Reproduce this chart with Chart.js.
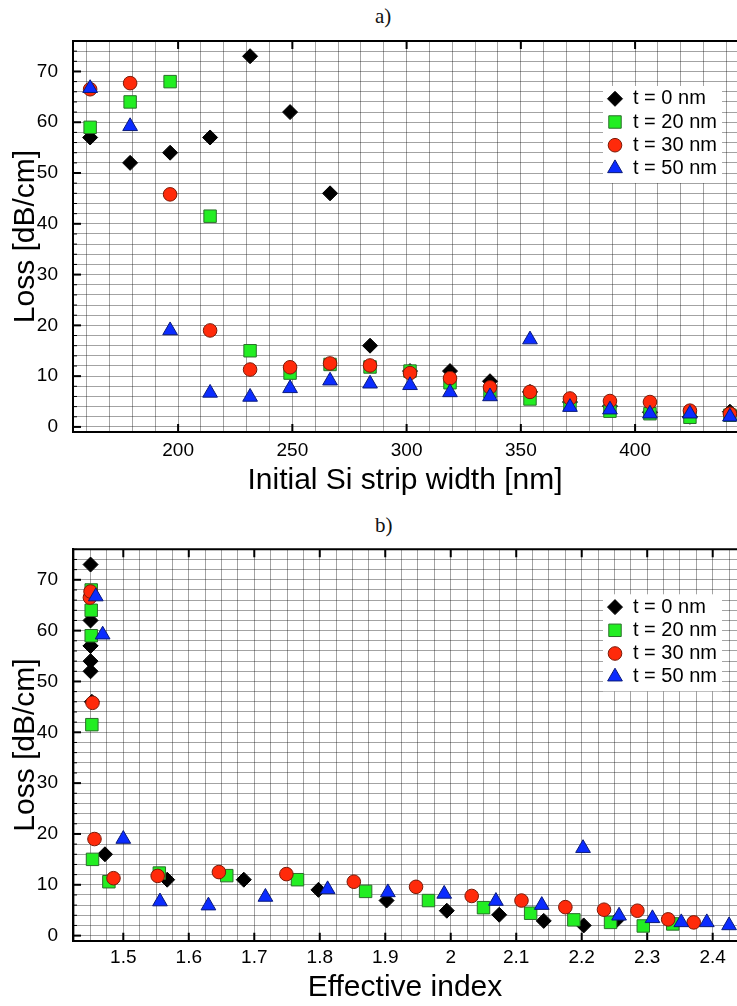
<!DOCTYPE html>
<html>
<head>
<meta charset="utf-8">
<script src="https://cdn.jsdelivr.net/npm/chart.js@4.4.1/dist/chart.umd.min.js"></script>
<style>
	body { margin: 0; background: #fff; width: 737px; height: 1006px; overflow: hidden; position: relative; }
	.panel { position: absolute; left: 0; width: 737px; }
	.tag { position: absolute; left: 375px; font-family: "Liberation Serif", "DejaVu Serif", serif; font-size: 21px; line-height: 1; color: #111; }
</style>
</head>
<body>
<div class="tag" style="top:6px">a)</div>
<div class="panel" style="top:0;height:500px"><canvas id="chartA"></canvas></div>
<div class="tag" style="top:515px">b)</div>
<div class="panel" style="top:500px;height:506px"><canvas id="chartB"></canvas></div>
<script>
// values
const seriesLabels = ["t = 0 nm", "t = 20 nm", "t = 30 nm", "t = 50 nm"];
const widthNm = [161.5, 179, 196.5, 214, 231.5, 249, 266.5, 284, 301.5, 319, 336.5, 354, 371.5, 389, 406.5, 424, 441.5];

const loss0 = [57, 52, 54, 57, 73, 62, 46, 16, 11, 11, 9, 6.9, 4.9, 4.1, 2.9, 2.0, 3.0];
const loss20 = [59, 64, 68, 41.5, 15, 10.6, 12.3, 11.8, 11.0, 8.7, 6.9, 5.5, 4.4, 3.1, 2.6, 1.9, 2.3];
const loss30 = [66.5, 67.7, 45.8, 19, 11.3, 11.75, 12.5, 12.1, 10.6, 9.6, 7.8, 6.9, 5.6, 5.1, 4.9, 3.2, 2.6];
const loss50 = [66.7, 59.2, 19, 6.7, 5.9, 7.6, 9.1, 8.5, 8.2, 6.8, 6.0, 17.2, 3.9, 3.4, 2.6, 2.6, 2.0];

const neff0 = [1.450, 1.450, 1.450, 1.450, 1.450, 1.450, 1.452, 1.472, 1.567, 1.684, 1.798, 1.902, 1.994, 2.074, 2.142, 2.203, 2.253];
const neff20 = [1.451, 1.451, 1.451, 1.452, 1.453, 1.478, 1.555, 1.658, 1.766, 1.870, 1.966, 2.050, 2.122, 2.188, 2.244, 2.294, 2.339];
const neff30 = [1.449, 1.450, 1.453, 1.456, 1.485, 1.5525, 1.646, 1.749, 1.852, 1.947, 2.032, 2.108, 2.175, 2.234, 2.285, 2.332, 2.371];
const neff50 = [1.458, 1.4685, 1.500, 1.556, 1.630, 1.717, 1.812, 1.904, 1.990, 2.069, 2.139, 2.202, 2.257, 2.308, 2.352, 2.391, 2.425];

const FONT = '"Liberation Sans", Arial, sans-serif';
Chart.defaults.font.family = FONT;
Chart.defaults.color = "#000";

const markers = [
	{ shape: "rectRot", r: 7.5, fill: "#000000", line: "#000000" },
	{ shape: "rect", r: 8.8, fill: "#22ee22", line: "#2b6e2b" },
	{ shape: "circle", r: 6.8, fill: "#ff2a0a", line: "#7a1a08" },
	{ shape: "triangle", r: 8.5, fill: "#0b2cff", line: "#0a1a7a" }
];

function makeDatasets(xLists) {
	const lossLists = [loss0, loss20, loss30, loss50];
	return lossLists.map((ys, k) => ({
		label: seriesLabels[k],
		data: ys.map((y, i) => ({ x: xLists[k][i], y: y })),
		pointStyle: markers[k].shape,
		pointRadius: markers[k].r,
		pointHoverRadius: markers[k].r,
		backgroundColor: markers[k].fill,
		borderColor: markers[k].line,
		borderWidth: 1,
		order: 4 - k   // blue on top, black underneath
	}));
}

// top frame line, inward ticks and the legend box
const framePlugin = {
	id: "frame",
	afterDraw(chart) {
		const { ctx, chartArea: a, scales } = chart;
		ctx.save();
		ctx.strokeStyle = "#000";
		ctx.lineWidth = 2;
		ctx.beginPath();
		ctx.moveTo(a.left - 1, a.top);
		ctx.lineTo(a.right, a.top);
		ctx.stroke();

		scales.x.ticks.forEach(t => {
			if (t.label === "") return;
			const px = scales.x.getPixelForValue(t.value);
			ctx.beginPath();
			ctx.moveTo(px, a.bottom); ctx.lineTo(px, a.bottom - 8);
			ctx.moveTo(px, a.top); ctx.lineTo(px, a.top + 8);
			ctx.stroke();
		});
		scales.y.ticks.forEach(t => {
			const py = scales.y.getPixelForValue(t.value);
			const major = t.label !== "";
			ctx.lineWidth = major ? 2 : 1;
			ctx.beginPath();
			ctx.moveTo(a.left, py); ctx.lineTo(a.left + (major ? 8 : 4), py);
			ctx.stroke();
		});

		const bx = a.right - 134, by = a.top + 45;
		ctx.fillStyle = "#fff";
		ctx.fillRect(bx, by, 119, 97);
		ctx.font = "20px " + FONT;
		ctx.textBaseline = "middle";
		chart.data.datasets.forEach((ds, k) => {
			const cy = by + 12.8 + k * 23.2;
			ctx.fillStyle = ds.backgroundColor;
			ctx.strokeStyle = ds.borderColor;
			ctx.lineWidth = ds.borderWidth;
			Chart.helpers.drawPoint(ctx, { pointStyle: ds.pointStyle, radius: ds.pointRadius, borderWidth: ds.borderWidth, rotation: 0 }, bx + 12, cy);
			ctx.fillStyle = "#000";
			ctx.fillText(ds.label, bx + 30, cy);
		});
		ctx.restore();
	}
};

function lossAxis() {
	return {
		min: -1,
		max: 76,
		afterFit: s => { s.width = 73; },
		border: { color: "#000", width: 2 },
		grid: { color: "rgba(0,0,0,0.36)", drawTicks: false },
		ticks: {
			stepSize: 2,
			includeBounds: false,
			autoSkip: false,
			padding: 15,
			font: { size: 19 },
			callback: v => (Math.abs(v % 10) < 1e-6 ? v : "")
		},
		title: { display: true, text: "Loss [dB/cm]", font: { size: 30 }, padding: { top: 8, bottom: 0 } }
	};
}

function baseOptions(padTop, xAxis) {
	return {
		responsive: true,
		maintainAspectRatio: false,
		animation: false,
		// the plot runs off the right edge of the page: keep no room for marker overflow
		layout: { autoPadding: false, padding: { top: padTop, left: 0, right: 0, bottom: 0 } },
		plugins: { legend: { display: false }, tooltip: { enabled: false } },
		scales: { x: xAxis, y: lossAxis() }
	};
}

new Chart(document.getElementById("chartA"), {
	type: "scatter",
	data: { datasets: makeDatasets([widthNm, widthNm, widthNm, widthNm]) },
	options: baseOptions(41, {
		type: "linear",
		min: 154,
		max: 444.6,
		afterFit: s => { s.height = 68; },
		border: { color: "#000", width: 2 },
		grid: { color: "rgba(0,0,0,0.36)", drawTicks: false },
		ticks: {
			stepSize: 10,
			includeBounds: false,
			autoSkip: false,
			maxRotation: 0,
			padding: 7,
			font: { size: 19 },
			callback: v => (Math.abs(v % 50) < 1e-6 ? v : "")
		},
		title: { display: true, text: "Initial Si strip width [nm]", font: { size: 30 }, padding: { top: 0, bottom: 1 } }
	}),
	plugins: [framePlugin]
});

new Chart(document.getElementById("chartB"), {
	type: "scatter",
	data: { datasets: makeDatasets([neff0, neff20, neff30, neff50]) },
	options: baseOptions(49.3, {
		type: "linear",
		min: 1.4232,
		max: 2.4371,
		afterFit: s => { s.height = 65.3; },
		border: { color: "#000", width: 2 },
		grid: { color: "rgba(0,0,0,0.36)", drawTicks: false },
		ticks: {
			stepSize: 0.025,
			includeBounds: false,
			autoSkip: false,
			maxRotation: 0,
			padding: 6,
			font: { size: 19 },
			callback: v => {
				const t = v * 10;
				return Math.abs(t - Math.round(t)) < 1e-6 ? String(Math.round(t) / 10) : "";
			}
		},
		title: { display: true, text: "Effective index", font: { size: 30 }, padding: { top: 0, bottom: 0 } }
	}),
	plugins: [framePlugin]
});
</script>
</body>
</html>
